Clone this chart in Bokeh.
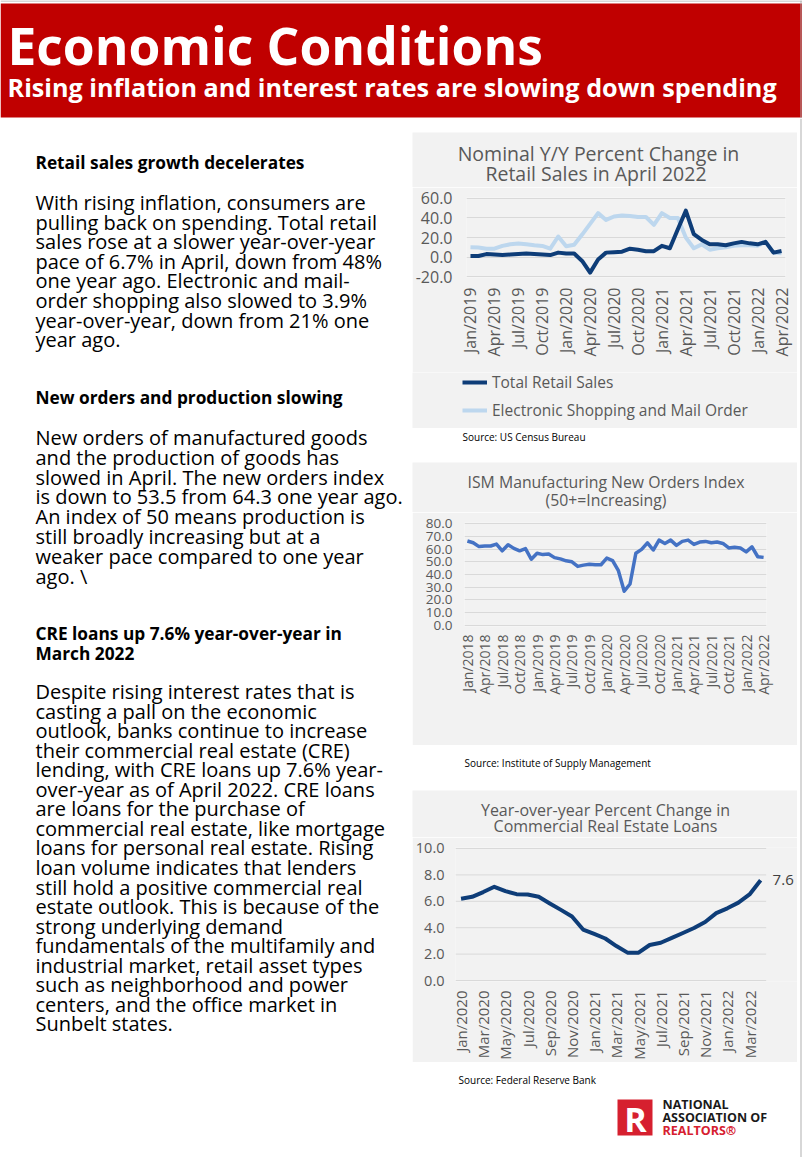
import math
from bokeh.plotting import figure
from bokeh.layouts import column, row
from bokeh.models import (Range1d, FixedTicker, Legend, LegendItem, Spacer,
                          NumeralTickFormatter, ColumnDataSource)
from bokeh.core.properties import value
from bokeh.embed import file_html
from bokeh.resources import INLINE

FONT = "Open Sans"
CHART_BG = "#f2f2f2"
GRID = "#d9d9d9"
AXIS_TXT = "#595959"
RED = "#c00000"
NAVY = "#0e3d78"
LIGHT = "#bdd7ee"
ISM_BLUE = "#4472c4"
EDGE = "#b0b0b0"

# ---------------- data ----------------
retail_ticks = ["Jan/2019", "Apr/2019", "Jul/2019", "Oct/2019", "Jan/2020", "Apr/2020",
                "Jul/2020", "Oct/2020", "Jan/2021", "Apr/2021", "Jul/2021", "Oct/2021",
                "Jan/2022", "Apr/2022"]
total_retail = [1.0, 1.0, 3.0, 2.5, 2.0, 2.5, 3.0, 3.5, 3.0, 2.5, 2.0, 4.5,
                3.5, 3.5, -4.0, -16.0, -2.5, 4.5, 5.0, 5.5, 8.5, 7.5, 6.0, 6.0,
                11.5, 9.0, 28.5, 47.5, 23.5, 17.5, 13.0, 13.0, 12.0, 14.0, 15.5, 14.0,
                13.0, 15.5, 4.5, 6.2]
electronic = [10.0, 9.7, 8.5, 8.5, 11.4, 13.0, 13.8, 13.0, 12.0, 11.4, 8.5, 21.0,
              11.0, 12.5, 23.0, 34.0, 45.0, 38.0, 41.5, 42.5, 42.0, 41.0, 41.0, 33.0,
              45.0, 40.0, 40.0, 20.0, 9.0, 13.0, 7.5, 9.0, 10.0, 11.5, 12.0, 12.0,
              11.5, 15.5, 4.5, 3.9]
retail_yticks = [-20, 0, 20, 40, 60]

ism_ticks = ["Jan/2018", "Apr/2018", "Jul/2018", "Oct/2018", "Jan/2019", "Apr/2019",
             "Jul/2019", "Oct/2019", "Jan/2020", "Apr/2020", "Jul/2020", "Oct/2020",
             "Jan/2021", "Apr/2021", "Jul/2021", "Oct/2021", "Jan/2022", "Apr/2022"]
ism_new_orders = [66.4, 65.0, 62.0, 62.5, 62.5, 64.0, 58.7, 63.5, 60.6, 58.7, 60.4, 52.0,
                  56.7, 55.7, 56.2, 53.3, 52.3, 50.8, 50.0, 46.4, 47.4, 48.0, 47.7, 47.7,
                  52.9, 51.0, 43.0, 26.8, 32.5, 56.7, 59.8, 65.0, 59.3, 67.1, 64.5, 67.1,
                  63.0, 66.1, 67.1, 63.7, 65.6, 66.1, 65.0, 65.6, 64.5, 60.9, 61.4, 60.9,
                  57.8, 61.8, 54.0, 53.5]
ism_yticks = [0, 10, 20, 30, 40, 50, 60, 70, 80]

cre_ticks = ["Jan/2020", "Mar/2020", "May/2020", "Jul/2020", "Sep/2020", "Nov/2020",
             "Jan/2021", "Mar/2021", "May/2021", "Jul/2021", "Sep/2021", "Nov/2021",
             "Jan/2022", "Mar/2022"]
cre_loans = [6.2, 6.34, 6.7, 7.1, 6.77, 6.54, 6.52, 6.34, 5.84, 5.35, 4.85, 3.86,
             3.53, 3.18, 2.61, 2.11, 2.11, 2.69, 2.86, 3.23, 3.6, 3.98, 4.43, 5.1,
             5.47, 5.9, 6.52, 7.6]
cre_yticks = [0, 2, 4, 6, 8, 10]

left_heading_1 = "Retail sales growth decelerates"
left_para_1 = ["With rising inflation, consumers are",
               "pulling back on spending. Total retail",
               "sales rose at a slower year-over-year",
               "pace of 6.7% in April,  down from 48%",
               "one year ago.  Electronic and mail-",
               "order shopping also slowed to 3.9%",
               "year-over-year, down from 21% one",
               "year ago."]
left_heading_2 = "New orders and production slowing"
left_para_2 = ["New orders of manufactured goods",
               "and the production of goods has",
               "slowed in April. The new orders index",
               "is down to 53.5 from 64.3 one year ago.",
               "An index of 50 means production is",
               "still broadly increasing but at a",
               "weaker pace compared to one year",
               "ago. \\"]
left_heading_3 = ["CRE loans up 7.6% year-over-year in", "March 2022"]
left_para_3 = ["Despite rising interest rates that is",
               "casting a pall on the economic",
               "outlook, banks continue to increase",
               "their commercial real estate (CRE)",
               "lending, with CRE loans up 7.6% year-",
               "over-year as of April 2022. CRE loans",
               "are loans for the purchase of",
               "commercial real estate, like mortgage",
               "loans for personal real estate. Rising",
               "loan volume indicates that lenders",
               "still hold a positive commercial real",
               "estate outlook. This is because of the",
               "strong underlying demand",
               "fundamentals of the multifamily and",
               "industrial market, retail asset types",
               "such as neighborhood and power",
               "centers, and the office market in",
               "Sunbelt states."]


# ---------------- helpers ----------------
def canvas(w, h, bg, xr=None, yr=None):
    p = figure(width=w, height=h, title=None,
               x_range=Range1d(0, w) if xr is None else Range1d(*xr),
               y_range=Range1d(h, 0) if yr is None else Range1d(*yr),
               output_backend="svg", toolbar_location=None,
               x_axis_location=None, y_axis_location=None,
               min_border=0, min_border_left=0, min_border_right=0,
               min_border_top=0, min_border_bottom=0)
    p.grid.visible = False
    p.outline_line_color = None
    p.background_fill_color = bg
    p.border_fill_color = bg
    return p


def put_text(p, x, y, s, size, color="#000000", bold=False, align="left"):
    p.text(x=[x], y=[y], text=[s], text_font=value(FONT), text_font_size=size,
           text_color=color, text_font_style="bold" if bold else "normal",
           text_align=align, text_baseline="middle")


def chart_fig(h, xr, yr, borders, xt, xlabels, yt, xfont, yfont, xstand, ystand):
    l, r, t, b = borders
    p = figure(width=385, height=h, title=None, x_range=Range1d(*xr), y_range=Range1d(*yr),
               output_backend="svg", toolbar_location=None,
               min_border_left=l, min_border_right=r, min_border_top=t, min_border_bottom=b)
    p.background_fill_color = CHART_BG
    p.border_fill_color = CHART_BG
    p.outline_line_color = None
    p.xgrid.visible = False
    p.ygrid.grid_line_color = GRID
    p.ygrid.grid_line_width = 1
    xa = p.xaxis[0]
    xa.ticker = FixedTicker(ticks=xt)
    xa.major_label_overrides = {tk: lb for tk, lb in zip(xt, xlabels)}
    xa.major_label_orientation = math.pi / 2
    xa.axis_line_color = None
    xa.major_tick_line_color = None
    xa.minor_tick_line_color = None
    xa.major_tick_out = 0
    xa.major_tick_in = 0
    xa.major_label_standoff = xstand
    xa.major_label_text_font = FONT
    xa.major_label_text_font_size = xfont
    xa.major_label_text_color = AXIS_TXT
    ya = p.yaxis[0]
    ya.ticker = FixedTicker(ticks=yt)
    ya.formatter = NumeralTickFormatter(format="0.0")
    ya.axis_line_color = None
    ya.major_tick_line_color = None
    ya.minor_tick_line_color = None
    ya.major_tick_out = 0
    ya.major_tick_in = 0
    ya.major_label_standoff = ystand
    ya.major_label_text_font = FONT
    ya.major_label_text_font_size = yfont
    ya.major_label_text_color = AXIS_TXT
    return p


# ---------------- header ----------------
header = canvas(802, 118, "#ffffff")
header.quad(left=[0], right=[802], top=[0], bottom=[1], fill_color=EDGE, line_color=None)
header.quad(left=[0], right=[802], top=[3], bottom=[117], fill_color=RED, line_color=None)
header.quad(left=[800], right=[801], top=[0], bottom=[118], fill_color=EDGE, line_color=None)
put_text(header, 7, 44, "Economic Conditions", "51.5px", "#ffffff", bold=True)
put_text(header, 7, 86, "Rising inflation and interest rates are slowing down spending",
         "25.2px", "#ffffff", bold=True)

# ---------------- left column ----------------
TOP = 118
left = canvas(412, 1039, "#ffffff")
LX = 35
BODY = "20px"
HEAD = "17.3px"
put_text(left, LX, 162 - TOP, left_heading_1, HEAD, bold=True)
for k, s in enumerate(left_para_1):
    put_text(left, LX, 202 + 19.6 * k - TOP, s, BODY)
put_text(left, LX, 397 - TOP, left_heading_2, HEAD, bold=True)
for k, s in enumerate(left_para_2):
    put_text(left, LX, 437 + 19.8 * k - TOP, s, BODY)
for k, s in enumerate(left_heading_3):
    put_text(left, LX, 633 + 20 * k - TOP, s, HEAD, bold=True)
for k, s in enumerate(left_para_3):
    put_text(left, LX, 691 + 19.55 * k - TOP, s, BODY)

# ---------------- chart 1: retail sales ----------------
t1 = canvas(385, 55, CHART_BG)
put_text(t1, 186, 20.5, "Nominal Y/Y Percent Change in", "19.5px", AXIS_TXT, align="center")
put_text(t1, 186, 41, "Retail Sales  in April 2022", "19.5px", AXIS_TXT, align="center")

retail_src = ColumnDataSource(dict(month=list(range(len(total_retail))),
                                   total=total_retail, electronic=electronic))
p1 = chart_fig(185, (-0.5, 39.5), (-21, 61), (52, 12, 10, 95),
               list(range(0, 40, 3)), retail_ticks, retail_yticks,
               "16px", "16px", 10, 14)
p1.line("month", "electronic", source=retail_src, line_color=LIGHT, line_width=4,
        line_join="round")
p1.line("month", "total", source=retail_src, line_color=NAVY, line_width=4,
        line_join="round")

# legend strip below the axis labels (same series, drawn out of view; legend only)
p1leg = canvas(385, 56, CHART_BG, xr=(0, 1), yr=(-1000, -999))
lg_light = p1leg.line("month", "electronic", source=retail_src, line_color=LIGHT, line_width=4)
lg_dark = p1leg.line("month", "total", source=retail_src, line_color=NAVY, line_width=4)
leg = Legend(items=[LegendItem(label="Total Retail Sales", renderers=[lg_dark]),
                    LegendItem(label="Electronic Shopping and Mail Order", renderers=[lg_light])],
             location=(50, 7), orientation="vertical", margin=0, padding=0, spacing=6,
             border_line_color=None, background_fill_alpha=0,
             glyph_width=25, glyph_height=20, label_height=20, label_standoff=5,
             label_text_font=FONT, label_text_font_size="15.5px", label_text_color=AXIS_TXT)
p1leg.add_layout(leg)

s1 = canvas(385, 34, "#ffffff")
put_text(s1, 50, 8, "Source: US Census Bureau", "10px")

# ---------------- chart 2: ISM ----------------
t2 = canvas(385, 50, CHART_BG)
put_text(t2, 193.5, 19, "ISM Manufacturing New Orders Index", "15.8px", AXIS_TXT, align="center")
put_text(t2, 193.5, 37, "(50+=Increasing)", "15.8px", AXIS_TXT, align="center")

x2 = list(range(len(ism_new_orders)))
p2 = chart_fig(233, (-0.5, 51.5), (-1, 81), (52, 31, 10, 119),
               list(range(0, 52, 3)), ism_ticks, ism_yticks,
               "14px", "13.5px", 8, 12)
p2.line(x2, ism_new_orders, line_color=ISM_BLUE, line_width=3.5, line_join="round")

s2 = canvas(385, 45, "#ffffff")
put_text(s2, 52, 17, "Source: Institute of Supply Management", "10px")

# ---------------- chart 3: CRE loans ----------------
t3 = canvas(385, 47, CHART_BG)
put_text(t3, 193, 19, "Year-over-year Percent Change in", "16px", AXIS_TXT, align="center")
put_text(t3, 193, 35.5, "Commercial Real Estate Loans", "16px", AXIS_TXT, align="center")

x3 = list(range(len(cre_loans)))
CRE_PX = 11.16
p3 = chart_fig(225, (-0.5, -0.5 + 344 / CRE_PX), (-0.075, 10.075), (41, 0, 10, 79),
               list(range(0, 28, 2)), cre_ticks, cre_yticks,
               "15px", "14.5px", 9, 11)
p3.ygrid.visible = False
p3.segment(x0=[-0.5] * len(cre_yticks), x1=[len(cre_loans) - 0.5] * len(cre_yticks),
           y0=cre_yticks, y1=cre_yticks, line_color=GRID, line_width=1)
p3.line(x3, cre_loans, line_color=NAVY, line_width=4, line_join="round")
p3.text(x=[x3[-1]], y=[cre_loans[-1]], text=[f"{cre_loans[-1]:.1f}"], x_offset=12,
        text_baseline="middle", text_align="left", text_font=value(FONT),
        text_font_size="15px", text_color="#404040")

# ---------------- bottom: source + logo ----------------
bot = canvas(385, 95, "#ffffff")
put_text(bot, 46, 17, "Source: Federal Reserve Bank", "10px")
bot.quad(left=[205], right=[240], top=[37], bottom=[73], fill_color="#d6202f", line_color=None)
put_text(bot, 223, 56, "R", "34px", "#ffffff", bold=True, align="center")
put_text(bot, 250, 42, "NATIONAL", "12.5px", "#1a1a1a", bold=True)
put_text(bot, 250, 55, "ASSOCIATION OF", "12.5px", "#1a1a1a", bold=True)
put_text(bot, 250, 68, "REALTORS\u00ae", "12.5px", "#d6202f", bold=True)

# thin right page edge
edge = canvas(5, 1039, "#ffffff")
edge.quad(left=[3], right=[4], top=[0], bottom=[1039], fill_color=EDGE, line_color=None)

right = column(Spacer(width=385, height=14),
               row(t1), row(p1), row(p1leg), row(s1), row(t2), row(p2), row(s2),
               row(t3), row(p3), row(bot))
page = column(header, row(left, right, edge))

open("out.html", "w").write(file_html(page, INLINE))
